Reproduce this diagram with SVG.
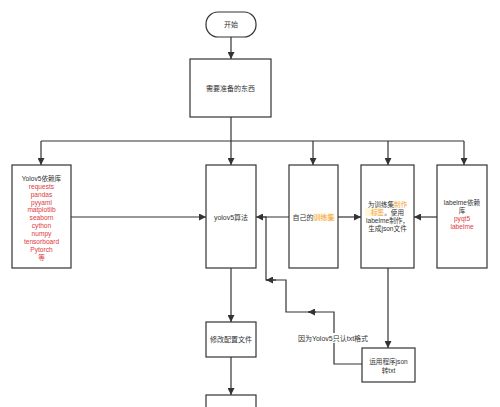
<svg xmlns="http://www.w3.org/2000/svg" width="500" height="407" viewBox="0 0 500 407">
<style>
.box{fill:#fff;stroke:#333;stroke-width:1.2}
.ln{fill:none;stroke:#333;stroke-width:1.2}
text{font-family:"Liberation Sans","Noto Sans CJK SC",sans-serif;font-size:7px;fill:#333;text-anchor:middle;dominant-baseline:central}
.sm{font-size:6.6px}
.red{fill:#e0393e}
.org{fill:#f5a033}
</style>
<defs>
<marker id="ah" viewBox="0 0 10 10" refX="10" refY="5" markerWidth="7" markerHeight="7" markerUnits="userSpaceOnUse" orient="auto">
<path d="M0,0 L10,5 L0,10 Z" fill="#333"/>
</marker>
</defs>
<rect width="500" height="407" fill="#fff"/>
<g id="connectors">
<path class="ln" d="M231,37 V59" marker-end="url(#ah)"/>
<path class="ln" d="M231,117 V165" marker-end="url(#ah)"/>
<path class="ln" d="M41,141 H464"/>
<path class="ln" d="M41,141 V165" marker-end="url(#ah)"/>
<path class="ln" d="M313,141 V165" marker-end="url(#ah)"/>
<path class="ln" d="M388,141 V165" marker-end="url(#ah)"/>
<path class="ln" d="M464,141 V165" marker-end="url(#ah)"/>
<path class="ln" d="M71,217 H206" marker-end="url(#ah)"/>
<path class="ln" d="M289,217 H256" marker-end="url(#ah)"/>
<path class="ln" d="M338,217 H361" marker-end="url(#ah)"/>
<path class="ln" d="M437,217 H414" marker-end="url(#ah)"/>
<path class="ln" d="M388,268 V348" marker-end="url(#ah)"/>
<path class="ln" d="M362,364 H334 V312 H286 V280 H266 V217 H258"/>
<path class="ln" d="M316,312 H308" marker-end="url(#ah)"/>
<path class="ln" d="M276,280 H266" marker-end="url(#ah)"/>
<path class="ln" d="M231,268 V322" marker-end="url(#ah)"/>
<path class="ln" d="M231,357 V395" marker-end="url(#ah)"/>
<rect x="298" y="333" width="70" height="10" fill="#fff"/>
<text x="333" y="338.5">因为Yolov5只认txt格式</text>
</g>
<g id="start">
<rect class="box" x="206" y="12" width="50" height="25" rx="12" ry="12"/>
<text x="231" y="24.5">开始</text>
</g>
<g id="prepare">
<rect class="box" x="190" y="59" width="81" height="58"/>
<text x="230.5" y="88">需要准备的东西</text>
</g>
<g id="deps">
<rect class="box" x="12" y="165" width="59" height="103"/>
<text class="sm" x="41.5" y="178.3">Yolov5依赖库</text>
<text class="sm red" x="41.5" y="186.2">requests</text>
<text class="sm red" x="41.5" y="194.1">pandas</text>
<text class="sm red" x="41.5" y="202">pyyaml</text>
<text class="sm red" x="41.5" y="209.9">matplotlib</text>
<text class="sm red" x="41.5" y="217.8">seaborn</text>
<text class="sm red" x="41.5" y="225.7">cython</text>
<text class="sm red" x="41.5" y="233.6">numpy</text>
<text class="sm red" x="41.5" y="241.5">tensorboard</text>
<text class="sm red" x="41.5" y="249.4">Pytorch</text>
<text class="sm red" x="41.5" y="257.3">等</text>
</g>
<g id="yolov5">
<rect class="box" x="206" y="165" width="50" height="103"/>
<text x="231" y="217">yolov5算法</text>
</g>
<g id="dataset">
<rect class="box" x="289" y="165" width="49" height="103"/>
<rect x="313" y="213" width="22" height="8" fill="#fff6dc"/>
<text x="313.5" y="217">自己的<tspan class="org">训练集</tspan></text>
</g>
<g id="label">
<rect class="box" x="361" y="165" width="53" height="103"/>
<rect x="365" y="208" width="16" height="8" fill="#fff6dc"/>
<text class="sm" x="387.5" y="204">为训练集<tspan class="org">制作</tspan></text>
<text class="sm" x="387.5" y="212.3"><tspan class="org">标签</tspan>。使用</text>
<text class="sm" x="387.5" y="220.6">labelme制作，</text>
<text class="sm" x="387.5" y="228.9">生成json文件</text>
</g>
<g id="labelmedeps">
<rect class="box" x="437" y="165" width="50" height="103"/>
<text class="sm" x="462" y="202">labelme依赖</text>
<text class="sm" x="462" y="210">库</text>
<text class="sm red" x="462" y="218">pyqt5</text>
<text class="sm red" x="462" y="226">labelme</text>
</g>
<g id="config">
<rect class="box" x="206" y="322" width="50" height="35"/>
<text x="231" y="339.5">修改配置文件</text>
</g>
<g id="convert">
<rect class="box" x="362" y="348" width="53" height="34"/>
<text class="sm" x="388.5" y="361.5">运用程序json</text>
<text class="sm" x="388.5" y="370">转txt</text>
</g>
<g id="next">
<rect class="box" x="206" y="395" width="50" height="20"/>
</g>
</svg>
